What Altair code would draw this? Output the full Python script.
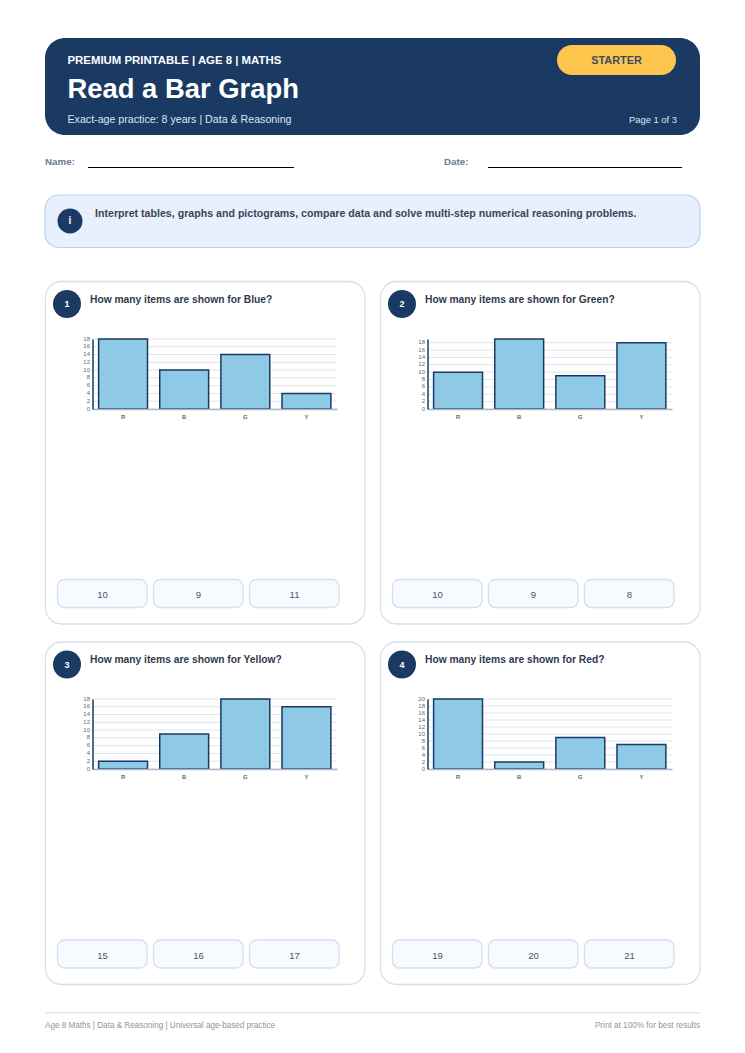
import altair as alt
import pandas as pd

FONT = 'Liberation Sans'
NAVY = '#1b3a63'

categories = ['R', 'B', 'G', 'Y']
values_1 = [18, 10, 14, 4]
values_2 = [10, 19, 9, 18]
values_3 = [2, 9, 18, 16]
values_4 = [20, 2, 9, 7]
tops = [18, 19, 18, 20]
questions = ['How many items are shown for Blue?', 'How many items are shown for Green?',
             'How many items are shown for Yellow?', 'How many items are shown for Red?']
answers = [['10', '9', '11'], ['10', '9', '8'], ['15', '16', '17'], ['19', '20', '21']]

one = alt.Data(values=[{'a': 1}])


# page pixels -> canvas pixels (the page has an 8px margin)
def box(x0, x1, y0, y1, fill, stroke=None, sw=0, r=0):
    kw = {'fill': fill, 'cornerRadius': r}
    if stroke:
        kw.update(stroke=stroke, strokeWidth=sw)
    return alt.Chart(one).mark_rect(**kw).encode(
        x=alt.value(x0 - 8), x2=alt.value(x1 - 8), y=alt.value(y0 - 8), y2=alt.value(y1 - 8))


def label(s, x, y, size, color, bold=False, align='left'):
    return alt.Chart(one).mark_text(
        text=s, font=FONT, fontSize=size, color=color, align=align, baseline='middle',
        fontWeight='bold' if bold else 'normal').encode(x=alt.value(x - 8), y=alt.value(y - 8))


def dot(x, y, r, color):
    return alt.Chart(one).mark_point(filled=True, shape='circle', size=4 * r * r, color=color,
                                     opacity=1).encode(x=alt.value(x - 8), y=alt.value(y - 8))


def panel(vals, top, left, base):
    df = pd.DataFrame({'cat': categories, 'val': vals})
    ticks = list(range(0, top + 1, 2))
    grid_df = pd.DataFrame({'val': ticks})
    y_scale = alt.Scale(domain=[0, top], range=[base - 8, base - 70 - 8], nice=False)
    x_scale = alt.Scale(domain=categories, range=[left - 8, left + 244.5 - 8],
                        paddingInner=0.2, paddingOuter=0.1)
    y_axis = alt.Axis(
        title=None, orient='left', offset=-(left - 8), values=ticks, ticks=False,
        labelFont=FONT, labelFontSize=6, labelColor='#5b6778', labelPadding=3, labelOffset=-1,
        labelOverlap=False, domainColor=NAVY, domainWidth=1.5, grid=False, zindex=1)
    grid = alt.Chart(grid_df).mark_rule(color='#dde5ee', strokeWidth=1).encode(
        y=alt.Y('val:Q', scale=y_scale, axis=y_axis),
        x=alt.value(left - 8), x2=alt.value(left + 244.5 - 8))
    bars = alt.Chart(df).mark_bar(fill='#8ecae6', stroke=NAVY, strokeWidth=1.5).encode(
        x=alt.X('cat:N', scale=x_scale, sort=categories, axis=alt.Axis(
            title=None, orient='bottom', offset=base - 8 - 1030, ticks=False, labelAngle=0,
            labelFont=FONT, labelFontSize=5.8, labelFontWeight='bold', labelColor='#5b6778', labelPadding=4,
            domainColor='#aeb8c4', domainWidth=1.5, grid=False, zindex=1)),
        y=alt.Y('val:Q', scale=y_scale, stack=None, axis=y_axis))
    return alt.layer(grid, bars)


def card(i, dx, dy, vals):
    parts = [box(45.5 + dx, 365 + dx, 281.5 + dy, 624 + dy, 'white', '#d5e0ee', 1.3, 16),
             dot(67 + dx, 304 + dy, 14, NAVY),
             label(str(i + 1), 67 + dx, 304 + dy, 9, 'white', True, 'center'),
             label(questions[i], 90 + dx, 299.5 + dy, 10.25, '#2f3b4c', True)]
    for j, a in enumerate(answers[i]):
        bx = 57.5 + dx + j * 96
        parts.append(box(bx, bx + 89.5, 579.5 + dy, 607.5 + dy, '#f7fafe', '#d3e0ef', 1.3, 7))
        parts.append(label(a, bx + 45, 595 + dy, 9.5, '#4a5568', False, 'center'))
    return parts


layers = [
    box(45, 700, 38, 135, NAVY, r=20),
    box(557, 676, 45, 75, '#ffc64d', r=15),
    label('STARTER', 616.5, 60.5, 10.9, '#3d4a5c', True, 'center'),
    label('PREMIUM PRINTABLE | AGE 8 | MATHS', 67.5, 61, 11.4, 'white', True),
    label('Read a Bar Graph', 67.5, 89.5, 27.4, 'white', True),
    label('Exact-age practice: 8 years | Data & Reasoning', 67.5, 119.5, 10.65, '#dce6f1'),
    label('Page 1 of 3', 677, 119.5, 9.4, '#dce6f1', False, 'right'),
    label('Name:', 45, 162, 9.8, '#6b7a8f', True),
    box(88, 294, 167, 168, 'black'),
    label('Date:', 444, 162, 9.8, '#6b7a8f', True),
    box(488, 682, 167, 168, 'black'),
    box(45, 700, 195, 247.5, '#e8f0fd', '#b8cfee', 1.2, 14),
    dot(70, 221, 12.5, NAVY),
    label('i', 70, 221, 10, 'white', True, 'center'),
    label('Interpret tables, graphs and pictograms, compare data and solve multi-step numerical reasoning problems.',
          95, 214, 10.63, '#3a4658', True),
    box(45, 700, 1012, 1013.5, '#dde5ee'),
    label('Age 8 Maths | Data & Reasoning | Universal age-based practice', 45, 1026, 8.13, '#8a96a6'),
    label('Print at 100% for best results', 700, 1026, 8.2, '#8a96a6', False, 'right'),
]

layers += card(0, 0, 0, values_1) + card(1, 335, 0, values_2)
layers += card(2, 0, 360.5, values_3) + card(3, 335, 360.5, values_4)

layers += [panel(values_1, tops[0], 92.5, 409), panel(values_2, tops[1], 427.5, 409),
           panel(values_3, tops[2], 92.5, 769), panel(values_4, tops[3], 427.5, 769)]

chart = alt.layer(*layers).resolve_scale(x='independent', y='independent').properties(
    width=729, height=1030, padding=0, autosize=alt.AutoSizeParams(type='none'),
    background='white'
).configure_view(stroke=None)

chart.save("out.html", embed_options={"renderer": "svg", "actions": False})
